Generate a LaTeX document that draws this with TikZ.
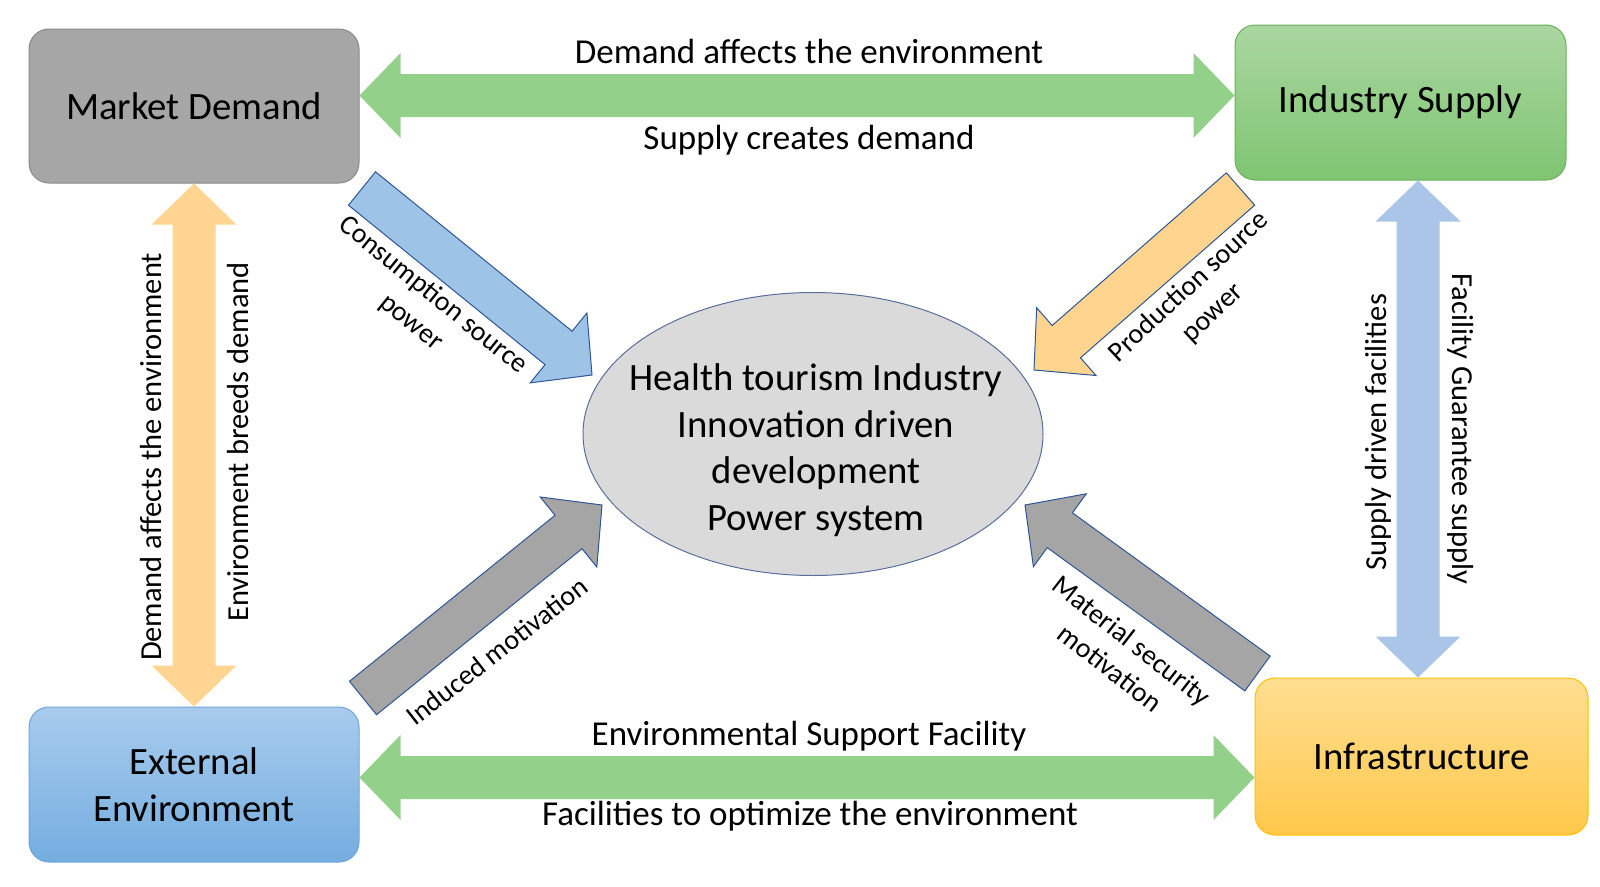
\documentclass[tikz,border=0pt]{standalone}
\usepackage{fontspec}
\setmainfont{Carlito}
\usetikzlibrary{calc,shapes.geometric}
\definecolor{mdfill}{HTML}{A6A6A6}
\definecolor{mdline}{HTML}{8A8A8A}
\definecolor{istop}{HTML}{AAD6A0}
\definecolor{isbot}{HTML}{7EC571}
\definecolor{isline}{HTML}{6CB05C}
\definecolor{eetop}{HTML}{A8CBEC}
\definecolor{eebot}{HTML}{74ADE0}
\definecolor{eeline}{HTML}{6EA6DA}
\definecolor{intop}{HTML}{FFDE92}
\definecolor{inbot}{HTML}{FFC84A}
\definecolor{inline}{HTML}{FFC000}
\definecolor{agreen}{HTML}{93D18B}
\definecolor{aorange}{HTML}{FFD591}
\definecolor{ablue}{HTML}{AAC5E7}
\definecolor{dblue}{HTML}{9DC3E6}
\definecolor{dorange}{HTML}{FFD48F}
\definecolor{dgray}{HTML}{A5A5A5}
\definecolor{doutline}{HTML}{2F5597}
\definecolor{ellfill}{HTML}{DADADA}
\definecolor{ellline}{HTML}{5A6E9C}

\newcommand\blockarrow[4]{%
  \coordinate (#4b) at ($(#3)!43pt!(#2)$);
  \draw[#1] ($(#2)!21.5pt!90:(#3)$) -- ($(#4b)!21.5pt!90:(#3)$) -- ($(#4b)!45pt!90:(#3)$) -- (#3)
    -- ($(#4b)!45pt!-90:(#3)$) -- ($(#4b)!21.5pt!-90:(#3)$) -- ($(#2)!21.5pt!-90:(#3)$) -- cycle;
}
\newcommand\dblarrow[4]{%
  \coordinate (#4p) at ($(#2)!41pt!(#3)$);
  \coordinate (#4q) at ($(#3)!41pt!(#2)$);
  \fill[#1] (#2) -- ($(#4p)!42.5pt!90:(#3)$) -- ($(#4p)!21.5pt!90:(#3)$) -- ($(#4q)!21.5pt!90:(#3)$)
    -- ($(#4q)!42.5pt!90:(#3)$) -- (#3) -- ($(#4q)!42.5pt!-90:(#3)$) -- ($(#4q)!21.5pt!-90:(#3)$)
    -- ($(#4p)!21.5pt!-90:(#3)$) -- ($(#4p)!42.5pt!-90:(#3)$) -- cycle;
}

\begin{document}
\begin{tikzpicture}[x=1pt,y=-1pt,
  box/.style={rounded corners=20pt, inner sep=0pt, align=center, line width=1pt,
    font=\fontsize{38.7}{46.5}\selectfont},
  alabel/.style={inner sep=0pt, font=\fontsize{35}{42}\selectfont},
  vlabel/.style={inner sep=0pt, font=\fontsize{30.5}{36}\selectfont},
  dlabel/.style={inner sep=0pt, align=center, font=\fontsize{28}{35}\selectfont},
  diag/.style={draw=doutline, line width=1pt, line join=miter}
]
\useasboundingbox (0,0) rectangle (1600,886);

% boxes
\node[box, draw=mdline, fill=mdfill, minimum width=330pt, minimum height=154pt] (md) at (194,106) {Market Demand};
\node[box, draw=isline, top color=istop, bottom color=isbot, minimum width=331pt, minimum height=155pt] (is) at (1400.5,102.5) {Industry Supply};
\node[box, draw=eeline, top color=eetop, bottom color=eebot, minimum width=330pt, minimum height=155pt] (ee) at (194,784.5) {External\\Environment};
\node[box, draw=inline, top color=intop, bottom color=inbot, minimum width=333pt, minimum height=157pt] (inf) at (1421.5,756.5) {Infrastructure};

% centre ellipse
\node[ellipse, draw=ellline, fill=ellfill, line width=1pt, minimum width=460pt, minimum height=283pt, inner sep=0pt] (core) at (813,434) {};
\node[align=center, inner sep=0pt, font=\fontsize{38.7}{46.5}\selectfont] (coretext) at (816,450)
  {Health tourism Industry\\Innovation driven\\development\\Power system};

% helper coordinates
\coordinate (ty) at (0,95.5);
\coordinate (by) at (0,777.5);
\coordinate (rx) at (1418,0);

% double arrows
\dblarrow{agreen}{md.east |- ty}{is.west |- ty}{h1}
\dblarrow{agreen}{ee.east |- by}{inf.west |- by}{h2}
\dblarrow{aorange}{md.south}{ee.north}{v1}
\dblarrow{ablue}{is.south -| rx}{inf.north -| rx}{v2}

% diagonal arrows
\coordinate (t1) at (362,188.5); \coordinate (p1) at (592,375);
\coordinate (t2) at (1240.5,189); \coordinate (p2) at (1034,370);
\coordinate (t3) at (363,698); \coordinate (p3) at (602,505);
\coordinate (t4) at (1257.5,673.5); \coordinate (p4) at (1025,505);
\blockarrow{diag, fill=dblue}{t1}{p1}{d1}
\blockarrow{diag, fill=dorange}{t2}{p2}{d2}
\blockarrow{diag, fill=dgray}{t3}{p3}{d3}
\blockarrow{diag, fill=dgray}{t4}{p4}{d4}

% labels
\node[alabel] (l1) at (809,51) {Demand affects the environment};
\node[alabel] (l2) at (809,140) {Supply creates demand};
\node[alabel] (l3) at (809,736) {Environmental Support Facility};
\node[alabel] (l4) at (810,816) {Facilities to optimize the environment};
\node[vlabel, rotate=90] (l5) at (151,457) {Demand affects the environment};
\node[vlabel, rotate=90] (l6) at (238,442) {Environment breeds demand};
\node[vlabel, rotate=90] (l7) at (1378,432) {Supply driven facilities};
\node[vlabel, rotate=-90] (l8) at (1461,429) {Facility Guarantee supply};
\node[dlabel, rotate=-39] (l9) at (422,309) {Consumption source\\power};
\node[dlabel, rotate=43] (l10) at (1201,300) {Production source\\power};
\node[dlabel, rotate=38] (l11) at (497,651) {Induced motivation};
\node[dlabel, rotate=-38] (l12) at (1121,654) {Material security\\motivation};
\end{tikzpicture}
\end{document}
